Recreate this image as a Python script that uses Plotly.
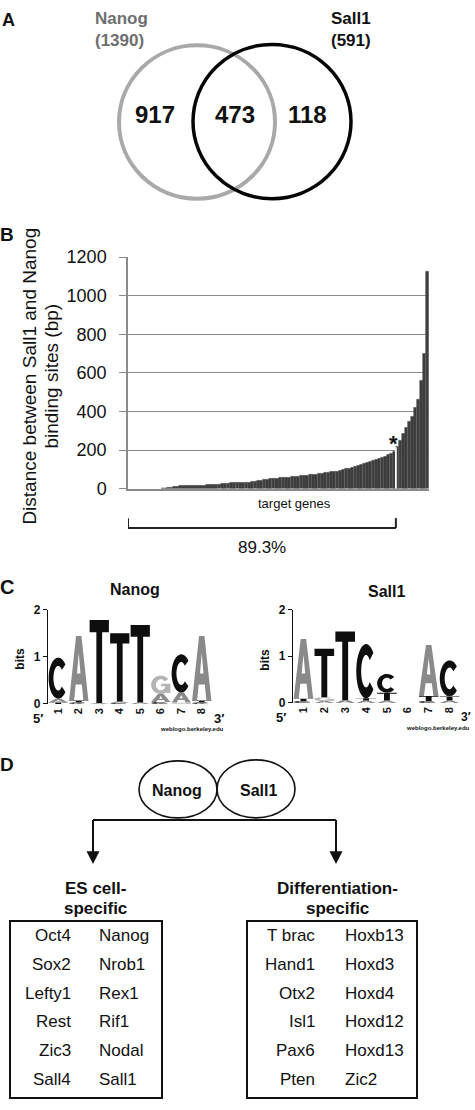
import math
import plotly.graph_objects as go

W, H = 475, 1110
FONT = "Liberation Sans, Arial, sans-serif"


def X(p):
    return p / W


def Y(p):
    return 1 - p / H


# ---------------- data ----------------
# Panel A: Venn counts
VENN_NAMES = ["Nanog", "Sall1"]
NANOG_ONLY = 917
SHARED = 473
SALL1_ONLY = 118

# Panel B: sorted distances (bp) between Sall1 and Nanog binding sites per target gene
DISTANCES = [
    0, 0, 0, 0, 0, 0, 0, 0, 0, 0, 0, 1,
    2, 4, 7, 10, 12, 14,
    15, 15, 15, 16, 16, 16, 17, 17, 18, 18, 19,
    21, 23, 25, 27, 28,
    29, 29, 30, 30, 31, 32, 33, 34, 36, 39,
    42, 45, 48, 50, 52, 54,
    55, 56, 57, 58, 60,
    62, 64, 66, 67, 69,
    71, 72, 74, 76, 78,
    81, 83, 86, 88, 90,
    94, 98, 102, 106, 110,
    113, 117, 124, 130, 136,
    140, 144, 149, 155, 161,
    167, 174, 181, 190,
    215, 250, 285, 315,
    345, 375, 420, 460,
    560, 700, 1124,
]
CUTOFF = 89          # first gene beyond 200 bp
CUTOFF_LABEL = "89.3%"
B_YTICKS = [0, 200, 400, 600, 800, 1000, 1200]

# Panel C: sequence logos (position, base, bottom bits, top bits)
LOGO_POSITIONS = [1, 2, 3, 4, 5, 6, 7, 8]
NANOG_POS = [1, 1, 1, 2, 2, 2, 3, 3, 4, 4, 4, 5, 5, 6, 6, 6, 7, 7, 7, 8, 8, 8]
NANOG_BASE = ["T", "A", "C", "C", "T", "A", "A", "T", "C", "A", "T", "A", "T",
              "C", "A", "G", "G", "A", "C", "C", "T", "A"]
NANOG_LO = [0.00, 0.03, 0.11, 0.00, 0.03, 0.07, 0.00, 0.02, 0.00, 0.02, 0.05, 0.00, 0.03,
            0.00, 0.04, 0.21, 0.00, 0.03, 0.24, 0.00, 0.03, 0.07]
NANOG_HI = [0.03, 0.11, 0.98, 0.03, 0.07, 1.44, 0.02, 1.78, 0.02, 0.05, 1.50, 0.03, 1.67,
            0.04, 0.21, 0.60, 0.03, 0.24, 1.05, 0.03, 0.07, 1.44]

SALL1_POS = [1, 1, 1, 2, 2, 2, 3, 3, 4, 4, 4, 5, 5, 5, 7, 7, 7, 8, 8, 8]
SALL1_BASE = ["C", "T", "A", "A", "G", "T", "A", "T", "A", "T", "C", "A", "T", "C",
              "C", "T", "A", "A", "T", "C"]
SALL1_LO = [0.00, 0.04, 0.09, 0.00, 0.04, 0.12, 0.00, 0.06, 0.00, 0.05, 0.10, 0.00, 0.05, 0.22,
            0.00, 0.04, 0.15, 0.00, 0.05, 0.14]
SALL1_HI = [0.04, 0.09, 1.37, 0.04, 0.12, 1.16, 0.06, 1.53, 0.05, 0.10, 1.26, 0.05, 0.22, 0.62,
            0.04, 0.15, 1.24, 0.05, 0.14, 0.91]

# Panel D: target gene lists
ES_LEFT = ["Oct4", "Sox2", "Lefty1", "Rest", "Zic3", "Sall4"]
ES_RIGHT = ["Nanog", "Nrob1", "Rex1", "Rif1", "Nodal", "Sall1"]
DIFF_LEFT = ["T brac", "Hand1", "Otx2", "Isl1", "Pax6", "Pten"]
DIFF_RIGHT = ["Hoxb13", "Hoxd3", "Hoxd4", "Hoxd12", "Hoxd13", "Zic2"]

# ---------------- styling helpers ----------------
BASE_COLOR = {"A": "#8a8a8a", "C": "#0e0e0e", "G": "#b4b4b4", "T": "#0e0e0e"}
BAR_COLOR = "#3d3d3d"


def ring(a0, a1, ro=(0.5, 0.5), ri=(0.25, 0.30), n=30):
    pts = []
    for k in range(n + 1):
        a = math.radians(a0 + (a1 - a0) * k / n)
        pts.append((0.5 + ro[0] * math.cos(a), 0.5 + ro[1] * math.sin(a)))
    for k in range(n, -1, -1):
        a = math.radians(a0 + (a1 - a0) * k / n)
        pts.append((0.5 + ri[0] * math.cos(a), 0.5 + ri[1] * math.sin(a)))
    return pts


# each glyph: list of separate paths; each path: list of polygons (unit box)
GLYPHS = {
    "T": [[[(0, 1), (1, 1), (1, 0.85), (0.65, 0.85), (0.65, 0), (0.35, 0), (0.35, 0.85), (0, 0.85)]]],
    "A": [[[(0, 0), (0.36, 1), (0.64, 1), (1, 0), (0.74, 0), (0.66, 0.25), (0.34, 0.25), (0.26, 0)],
           [(0.41, 0.42), (0.59, 0.42), (0.5, 0.74)]]],
    "C": [[ring(42, 318)]],
    "G": [[ring(38, 352)],
          [[(0.52, 0.56), (1, 0.56), (1, 0.05), (0.8, 0.05), (0.8, 0.42), (0.52, 0.42)]]],
}

shapes = []
annotations = []


def ann(text, x, y, size=17, bold=False, color="#111111", xanchor="center",
        yanchor="middle", angle=0):
    annotations.append(dict(
        text=text, x=X(x), y=Y(y), xref="paper", yref="paper", showarrow=False,
        xanchor=xanchor, yanchor=yanchor, textangle=angle,
        font=dict(family=FONT, size=size, color=color, weight="bold" if bold else "normal"),
    ))


def add_logo(xref, yref, pos, base, lo, hi):
    for p, b, y0, y1 in zip(pos, base, lo, hi):
        for path in GLYPHS[b]:
            d = ""
            for poly in path:
                pts = [(p - 0.47 + u * 0.94, y0 + v * (y1 - y0)) for u, v in poly]
                d += "M" + " L".join(f"{a:.4f},{c:.4f}" for a, c in pts) + " Z "
            shapes.append(dict(type="path", path=d, xref=xref, yref=yref,
                               fillcolor=BASE_COLOR[b], line=dict(width=0), layer="above"))


# ---------------- Panel A: Venn ----------------
ann("A", 8, 11, size=18, bold=True)
shapes.append(dict(type="circle", xref="paper", yref="paper",
                   x0=X(119), x1=X(275), y0=Y(193), y1=Y(37),
                   line=dict(color="#a9a9a9", width=4)))
shapes.append(dict(type="circle", xref="paper", yref="paper",
                   x0=X(193), x1=X(351), y0=Y(193), y1=Y(36),
                   line=dict(color="#050505", width=3.5)))
ann(VENN_NAMES[0], 93, 10, size=17, bold=True, color="#6e6e6e", xanchor="left")
ann(f"({NANOG_ONLY + SHARED})", 93, 32, size=17, bold=True, color="#6e6e6e", xanchor="left")
ann(VENN_NAMES[1], 329, 10, size=17, bold=True, color="#111111", xanchor="left")
ann(f"({SALL1_ONLY + SHARED})", 329, 32, size=17, bold=True, color="#111111", xanchor="left")
ann(str(NANOG_ONLY), 155, 107, size=24, bold=True)
ann(str(SHARED), 235, 107, size=24, bold=True)
ann(str(SALL1_ONLY), 307, 107, size=24, bold=True)

# ---------------- Panel B: bar chart ----------------
ann("B", 7, 229, size=19, bold=True)
xs = list(range(len(DISTANCES)))
line_w = [0 if DISTANCES[i] < 3 else (0.7 if (i % 3 == 0 and DISTANCES[i] > 20) else 0.5) for i in xs]
line_c = ["#6c6c6c" if (i % 3 == 0 and DISTANCES[i] > 20) else BAR_COLOR for i in xs]
bars = go.Bar(x=xs, y=DISTANCES, xaxis="x", yaxis="y",
              marker=dict(color=BAR_COLOR, line=dict(color=line_c, width=line_w)),
              width=1.0, hoverinfo="skip", showlegend=False)
# white separator at the 200 bp cutoff
shapes.append(dict(type="line", xref="x", yref="y", x0=CUTOFF - 0.5, x1=CUTOFF - 0.5,
                   y0=0, y1=DISTANCES[CUTOFF], line=dict(color="white", width=1.8),
                   layer="above"))
annotations.append(dict(text="*", x=CUTOFF - 1.3, y=DISTANCES[CUTOFF - 1] + 45, xref="x", yref="y",
                        showarrow=False, xanchor="center", yanchor="middle",
                        font=dict(family=FONT, size=22, color="#111", weight="bold")))
ann("Distance between Sall1 and Nanog", 30, 374, size=19, angle=-90)
ann("binding sites (bp)", 52, 374, size=19, angle=-90)
ann("target genes", 294, 503, size=13)
# bracket covering genes below 200 bp
for sh in [
    dict(x0=-0.5, x1=CUTOFF - 0.5, y0=Y(528), y1=Y(528)),
    dict(x0=-0.5, x1=-0.5, y0=Y(518), y1=Y(528)),
    dict(x0=CUTOFF - 0.5, x1=CUTOFF - 0.5, y0=Y(518), y1=Y(528)),
]:
    shapes.append(dict(type="line", xref="x", yref="paper", line=dict(color="#222", width=2), **sh))
annotations.append(dict(text=CUTOFF_LABEL, x=(CUTOFF - 1) / 2, y=Y(548), xref="x", yref="paper",
                        showarrow=False, xanchor="center", yanchor="middle",
                        font=dict(family=FONT, size=17, color="#111")))

# ---------------- Panel C: sequence logos ----------------
ann("C", 7, 588, size=20, bold=True)
ann("Nanog", 135, 591, size=16, bold=True)
ann("Sall1", 386, 593, size=16, bold=True)
add_logo("x2", "y2", NANOG_POS, NANOG_BASE, NANOG_LO, NANOG_HI)
add_logo("x3", "y3", SALL1_POS, SALL1_BASE, SALL1_LO, SALL1_HI)
ann("bits", 20, 661, size=12, bold=True, angle=-90)
ann("bits", 265, 662, size=12, bold=True, angle=-90)
ann("5\u2032", 38, 722, size=13, bold=True)
ann("3\u2032", 219, 722, size=13, bold=True)
ann("5\u2032", 281, 721, size=13, bold=True)
ann("3\u2032", 466, 720, size=12, bold=True)
ann("weblogo.berkeley.edu", 192, 733, size=6, bold=True)
ann("weblogo.berkeley.edu", 438, 732, size=6, bold=True)

# ---------------- Panel D: diagram ----------------
ann("D", 7, 769, size=19, bold=True)
shapes.append(dict(type="circle", xref="paper", yref="paper", x0=X(139), x1=X(217),
                   y0=Y(823), y1=Y(765), line=dict(color="#111", width=1.6)))
shapes.append(dict(type="circle", xref="paper", yref="paper", x0=X(217), x1=X(295),
                   y0=Y(823), y1=Y(764), line=dict(color="#111", width=1.6)))
ann("Nanog", 177, 795, size=16, bold=True)
ann("Sall1", 258, 795, size=16, bold=True)
for (x0, y0, x1, y1) in [(93, 825, 336, 825), (93, 825, 93, 860), (336, 825, 336, 860)]:
    shapes.append(dict(type="line", xref="paper", yref="paper", x0=X(x0), y0=Y(y0),
                       x1=X(x1), y1=Y(y1), line=dict(color="#111", width=2)))
for cx in (93, 336):
    d = f"M{X(cx - 6.5)},{Y(857)} L{X(cx + 6.5)},{Y(857)} L{X(cx)},{Y(870)} Z"
    shapes.append(dict(type="path", path=d, xref="paper", yref="paper",
                       fillcolor="#111", line=dict(width=0)))
ann("ES cell-", 95, 895, size=17, bold=True)
ann("specific", 95, 915, size=17, bold=True)
ann("Differentiation-", 337, 895, size=17, bold=True)
ann("specific", 337, 915, size=17, bold=True)
for (x0, x1) in [(10, 162), (247, 417)]:
    shapes.append(dict(type="rect", xref="paper", yref="paper", x0=X(x0), x1=X(x1),
                       y0=Y(1108), y1=Y(928), line=dict(color="#111", width=2)))
for i in range(len(ES_LEFT)):
    yy = 943 + 29.2 * i
    ann(ES_LEFT[i], 73, yy, size=17, xanchor="right")
    ann(ES_RIGHT[i], 97, yy, size=17, xanchor="left")
    ann(DIFF_LEFT[i], 317, yy, size=17, xanchor="right")
    ann(DIFF_RIGHT[i], 343, yy, size=17, xanchor="left")

# ---------------- figure ----------------
fig = go.Figure(data=[bars])
logo_tick = dict(family=FONT, size=11, color="#111", weight="bold")
fig.update_layout(
    width=W, height=H, margin=dict(l=0, r=0, t=0, b=0),
    paper_bgcolor="white", plot_bgcolor="white", bargap=0,
    showlegend=False, shapes=shapes, annotations=annotations,
    xaxis=dict(domain=[X(128), X(429)], range=[-0.5, len(DISTANCES) - 0.5], anchor="y",
               showticklabels=False, showgrid=False, zeroline=False, ticks="",
               showline=True, linecolor="#8a8a8a", linewidth=1.5, fixedrange=True),
    yaxis=dict(domain=[Y(488), Y(252)], range=[0, 1202], anchor="x", tickvals=B_YTICKS,
               showgrid=True, gridcolor="#8c8c8c", gridwidth=1.4, zeroline=False,
               showline=True, linecolor="#8a8a8a", linewidth=1.5,
               ticks="outside", ticklen=7, tickcolor="#8a8a8a", tickwidth=1.4,
               ticklabelstandoff=9,
               tickfont=dict(family=FONT, size=18, color="#111")),
    xaxis2=dict(domain=[X(48), X(212)], range=[0.5, 8.5], anchor="y2",
                tickvals=LOGO_POSITIONS, ticktext=[str(p) for p in LOGO_POSITIONS],
                tickangle=-90, ticks="", showgrid=False, zeroline=False, showline=False,
                tickfont=logo_tick, ticklabelstandoff=1),
    yaxis2=dict(domain=[Y(707), Y(611)], range=[0, 2], anchor="x2", tickvals=[0, 1, 2],
                ticks="outside", ticklen=4, tickcolor="#111", showgrid=False, zeroline=False,
                showline=True, linecolor="#111", linewidth=1.2,
                tickfont=dict(family=FONT, size=12, color="#111", weight="bold")),
    xaxis3=dict(domain=[X(293), X(460)], range=[0.5, 8.5], anchor="y3",
                tickvals=LOGO_POSITIONS, ticktext=[str(p) for p in LOGO_POSITIONS],
                tickangle=-90, ticks="", showgrid=False, zeroline=False, showline=False,
                tickfont=logo_tick, ticklabelstandoff=1),
    yaxis3=dict(domain=[Y(706), Y(611)], range=[0, 2], anchor="x3", tickvals=[0, 1, 2],
                ticks="outside", ticklen=4, tickcolor="#111", showgrid=False, zeroline=False,
                showline=True, linecolor="#111", linewidth=1.2,
                tickfont=dict(family=FONT, size=12, color="#111", weight="bold")),
)
# remove the browser's default 8px page margin so the figure sits at the window origin
fig.write_html("out.html", config={"displayModeBar": False},
               post_script="document.body.style.margin='0';document.body.style.overflow='hidden';")
